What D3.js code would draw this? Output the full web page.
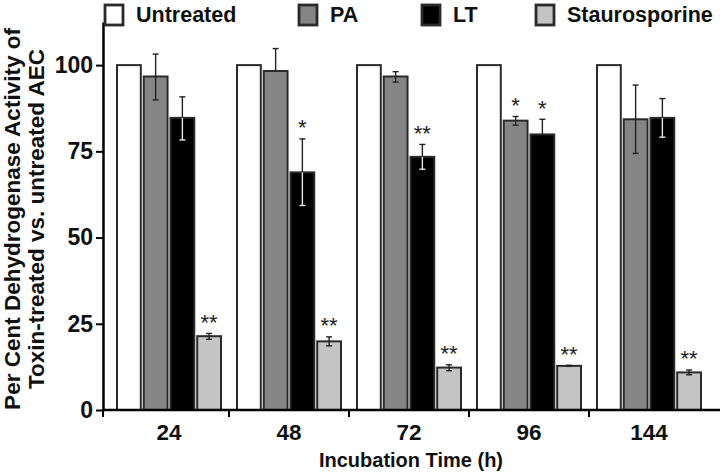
<!DOCTYPE html>
<html>
<head>
<meta charset="utf-8">
<script src="https://cdn.jsdelivr.net/npm/d3@7/dist/d3.min.js"></script>
<style>
  html, body { margin: 0; padding: 0; background: #fff; }
  svg { display: block; }
  text { font-family: "Liberation Sans", Arial, sans-serif; }
</style>
</head>
<body>
<svg id="chart" width="720" height="475"></svg>
<script>
// ---- data ----
const timepoints = ["24", "48", "72", "96", "144"];
const seriesNames = ["Untreated", "PA", "LT", "Staurosporine"];
const untreated = [100, 100, 100, 100, 100];
const pa = [96.7, 98.3, 96.7, 83.9, 84.3];
const lt = [84.7, 68.9, 73.4, 79.9, 84.7];
const stauro = [21.4, 19.9, 12.3, 12.8, 10.9];
const untreatedErrUp = [0, 0, 0, 0, 0];
const untreatedErrDown = [0, 0, 0, 0, 0];
const paErrUp = [6.5, 6.5, 1.4, 1.2, 9.9];
const paErrDown = [6.8, 0, 1.6, 1.3, 9.9];
const ltErrUp = [6.1, 9.7, 3.6, 4.4, 5.6];
const ltErrDown = [6.4, 9.6, 3.6, 0, 5.6];
const stauroErrUp = [0.8, 1.3, 0.8, 0.15, 0.7];
const stauroErrDown = [0.9, 1.3, 0.9, 0.15, 0.7];
const paSig = ["", "", "", "*", ""];
const ltSig = ["", "*", "**", "*", ""];
const stauroSig = ["**", "**", "**", "**", "**"];
const yTicks = [0, 25, 50, 75, 100];

const seriesValues = [untreated, pa, lt, stauro];
const seriesErrUp = [untreatedErrUp, paErrUp, ltErrUp, stauroErrUp];
const seriesErrDown = [untreatedErrDown, paErrDown, ltErrDown, stauroErrDown];
const seriesSig = [["", "", "", "", ""], paSig, ltSig, stauroSig];
const fills = ["#ffffff", "#858585", "#000000", "#c4c4c4"];

// ---- layout ----
const svg = d3.select("#chart");
const axisX = 103, axisY = 410;

const y = d3.scaleLinear().domain([0, 112.5]).range([410, 22]);
const x0 = d3.scaleBand().domain(timepoints).range([109, 709])
  .paddingInner(0.1333).paddingOuter(0.0667);
const x1 = d3.scaleBand().domain(seriesNames).range([0, x0.bandwidth()])
  .paddingInner(0.11).paddingOuter(0);

// bars
const groups = svg.append("g").selectAll("g")
  .data(timepoints).join("g")
  .attr("transform", d => `translate(${x0(d)},0)`);

groups.each(function(tp, i) {
  const g = d3.select(this);
  seriesNames.forEach((s, k) => {
    const v = seriesValues[k][i];
    const bx = x1(s), bw = x1.bandwidth();
    g.append("rect")
      .attr("x", bx).attr("y", y(v))
      .attr("width", bw).attr("height", y(0) - y(v))
      .attr("fill", fills[k])
      .attr("stroke", "#2a2a2a").attr("stroke-width", 2);
    const up = seriesErrUp[k][i], dn = seriesErrDown[k][i];
    const cx = bx + bw / 2;
    const capW = 3;
    const inColor = (k === 2) ? "#e6e6e6" : "#222";
    if (up > 0) {
      g.append("line").attr("x1", cx).attr("x2", cx)
        .attr("y1", y(v + up)).attr("y2", y(v))
        .attr("stroke", "#222").attr("stroke-width", 1.4);
      g.append("line").attr("x1", cx - capW).attr("x2", cx + capW)
        .attr("y1", y(v + up)).attr("y2", y(v + up))
        .attr("stroke", "#222").attr("stroke-width", 1.4);
    }
    if (dn > 0) {
      g.append("line").attr("x1", cx).attr("x2", cx)
        .attr("y1", y(v)).attr("y2", y(v - dn))
        .attr("stroke", inColor).attr("stroke-width", 1.4);
      g.append("line").attr("x1", cx - capW).attr("x2", cx + capW)
        .attr("y1", y(v - dn)).attr("y2", y(v - dn))
        .attr("stroke", inColor).attr("stroke-width", 1.4);
    }
    const sig = seriesSig[k][i];
    if (sig) {
      g.append("text")
        .attr("x", cx).attr("y", y(v + up) - 16 + 12.5)
        .attr("text-anchor", "middle")
        .attr("font-size", 22).attr("fill", "#222")
        .text(sig);
    }
  });
});

// y axis
const yAxis = d3.axisLeft(y).tickValues(yTicks).tickSize(7).tickSizeOuter(0).tickPadding(3);
const gy = svg.append("g").attr("transform", `translate(${axisX},0)`).call(yAxis);
gy.select(".domain").attr("stroke", "#000").attr("stroke-width", 2.5);
gy.selectAll(".tick line").attr("stroke", "#000").attr("stroke-width", 2);
gy.selectAll(".tick text")
  .attr("font-family", "Liberation Sans, Arial, sans-serif")
  .attr("font-size", 23).attr("font-weight", "bold").attr("fill", "#111");

// x axis
svg.append("line").attr("x1", axisX - 1).attr("x2", 720)
  .attr("y1", axisY).attr("y2", axisY)
  .attr("stroke", "#000").attr("stroke-width", 2.5);
const sepTicks = [axisX].concat(timepoints.slice(0, -1).map(d =>
  x0(d) + x0.bandwidth() + x0.step() * x0.paddingInner() / 2));
svg.append("g").selectAll("line").data(sepTicks).join("line")
  .attr("x1", d => d).attr("x2", d => d)
  .attr("y1", axisY).attr("y2", axisY + 7)
  .attr("stroke", "#000").attr("stroke-width", 2);
const xAxis = d3.axisBottom(x0).tickSize(0).tickPadding(0);
const gx = svg.append("g").attr("transform", `translate(0,${axisY})`).call(xAxis);
gx.select(".domain").remove();
gx.selectAll(".tick text")
  .attr("font-family", "Liberation Sans, Arial, sans-serif")
  .attr("font-size", 22.5).attr("font-weight", "bold").attr("fill", "#111")
  .attr("dy", null).attr("y", 29.5);

// axis titles
svg.append("text").attr("x", 411).attr("y", 467)
  .attr("text-anchor", "middle").attr("font-size", 20).attr("font-weight", "bold")
  .attr("fill", "#111").text("Incubation Time (h)");
const yt = svg.append("text")
  .attr("transform", "translate(0,219) rotate(-90)")
  .attr("text-anchor", "middle").attr("font-size", 22.5).attr("font-weight", "bold")
  .attr("fill", "#111");
yt.append("tspan").attr("x", 0).attr("y", 20).text("Per Cent Dehydrogenase Activity of");
yt.append("tspan").attr("x", 0).attr("y", 44).text("Toxin-treated vs. untreated AEC");

// legend
const legendX = [105, 299, 422, 536];
const leg = svg.append("g").selectAll("g").data(seriesNames).join("g")
  .attr("transform", (d, i) => `translate(${legendX[i]},5)`);
leg.append("rect").attr("x", 0).attr("y", 0).attr("width", 18).attr("height", 20)
  .attr("fill", (d, i) => fills[i]).attr("stroke", "#2a2a2a").attr("stroke-width", 2.8);
leg.append("text").attr("x", 31).attr("y", 16.5)
  .attr("font-size", 21.5).attr("font-weight", "bold").attr("fill", "#111")
  .text(d => d);
</script>
</body>
</html>
